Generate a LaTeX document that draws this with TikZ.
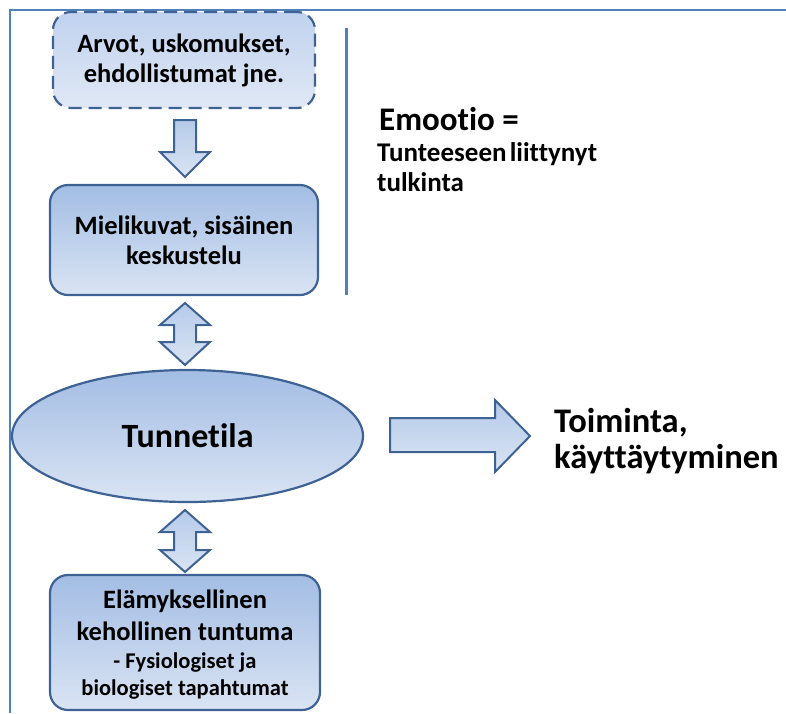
\documentclass[tikz,border=0pt]{standalone}
\usepackage{fontspec}
\setmainfont{Carlito}[Ligatures=NoCommon]
\usetikzlibrary{shapes.geometric}

\definecolor{frameblue}{RGB}{79,129,189}
\definecolor{edgeblue}{RGB}{62,98,148}
\definecolor{fillTop}{RGB}{163,189,228}
\definecolor{fillBot}{RGB}{218,228,243}
\definecolor{paleTop}{RGB}{192,210,238}
\definecolor{paleBot}{RGB}{224,232,245}

\tikzset{
  box/.style={draw=edgeblue, line width=2.2pt, rounded corners=18pt,
    top color=fillTop, bottom color=fillBot, align=center,
    font=\bfseries\fontsize{26.5}{30}\selectfont, inner sep=0pt},
  dashbox/.style={box, dash pattern=on 13pt off 7pt, top color=paleTop, bottom color=paleBot},
  blockarrow/.style={draw=edgeblue, line width=2pt, line join=miter,
    top color=fillTop!80!white, bottom color=fillBot},
  label/.style={anchor=base west, inner sep=0pt, font=\bfseries},
  boxline/.style={anchor=base, inner sep=0pt, font=\bfseries\fontsize{26.5}{30}\selectfont},
  smallline/.style={anchor=base, inner sep=0pt, font=\bfseries\fontsize{22.5}{27}\selectfont}
}

\begin{document}
\begin{tikzpicture}[x=1pt, y=-1pt]
  \useasboundingbox (0,0) rectangle (786,713);

  % outer frame lines
  \draw[frameblue, line width=1.5pt] (10,713) -- (10,10) -- (786,10);

  % separator beside the definition
  \draw[frameblue, line width=3pt] (346,28) -- (346,295);

  % boxes
  \node[dashbox, minimum width=262pt, minimum height=96pt] (arvot) at (184,60)
    {Arvot, uskomukset,\\ehdollistumat jne.};
  \node[box, minimum width=268pt, minimum height=110pt] (mieli) at (184,240)
    {Mielikuvat, sisäinen\\keskustelu};
  \node[ellipse, draw=edgeblue, line width=2.2pt, top color=fillTop, bottom color=fillBot,
    minimum width=351pt, minimum height=132pt, inner sep=0pt,
    font=\bfseries\fontsize{34}{40}\selectfont] (tunne) at (187.5,436) {Tunnetila};
  \node[box, minimum width=270pt, minimum height=135pt] (keho) at (185,642.5) {};
  \node[boxline] (keho1) at (185,608) {Elämyksellinen};
  \node[boxline] (keho2) at (185,640) {kehollinen tuntuma};
  \node[smallline] (keho3) at (185,668) {- Fysiologiset ja};
  \node[smallline] (keho4) at (185,695) {biologiset tapahtumat};

  % down arrow between the top boxes
  \path[blockarrow] (174,120) -- (196,120) -- (196,152) -- (210,152) -- (185,177)
    -- (160,152) -- (174,152) -- cycle;

  % two-way arrow between images and feeling state
  \path[blockarrow] (185,303) -- (210,325) -- (196,325) -- (196,342) -- (210,342)
    -- (185,365) -- (160,342) -- (174,342) -- (174,325) -- (160,325) -- cycle;

  % two-way arrow between feeling state and bodily sensation
  \path[blockarrow] (185,510) -- (210,532) -- (196,532) -- (196,550) -- (210,550)
    -- (185,572) -- (160,550) -- (174,550) -- (174,532) -- (160,532) -- cycle;

  % arrow towards action
  \path[blockarrow] (390,418) -- (495,418) -- (495,400) -- (530,436) -- (495,472)
    -- (495,452) -- (390,452) -- cycle;

  % texts on the right
  \node[label, font=\bfseries\fontsize{33}{36}\selectfont] (emo) at (379,130) {Emootio =};
  \node[label, font=\bfseries\fontsize{27}{30}\selectfont] (tulk1) at (377,161) {Tunteeseen\hspace{0.12em}liittynyt};
  \node[label, font=\bfseries\fontsize{27}{30}\selectfont] (tulk2) at (377,191) {tulkinta};
  \node[label, font=\bfseries\fontsize{34.5}{36}\selectfont] (toim1) at (554,432) {Toiminta,};
  \node[label, font=\bfseries\fontsize{34.5}{36}\selectfont] (toim2) at (554,468) {käyttäytyminen};
\end{tikzpicture}
\end{document}
